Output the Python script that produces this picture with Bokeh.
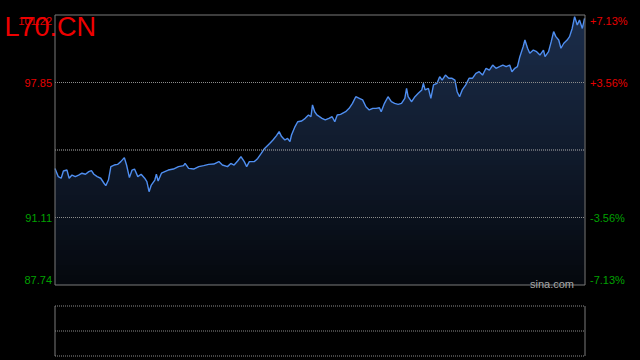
from bokeh.plotting import figure
from bokeh.models import Range1d, Label, GlobalInlineStyleSheet
from bokeh.layouts import column
from bokeh.embed import file_html
from bokeh.resources import INLINE

# ---------------- data ----------------
symbol = "L70.CN"
watermark = "sina.com"
prev_close = 94.48
price_ticks = [101.22, 97.85, 91.11, 87.74]
pct_labels = ["+7.13%", "+3.56%", "-3.56%", "-7.13%"]

times = [0.0, 1.5, 2.8, 3.8, 5.4, 6.4, 7.7, 9.2, 10.7, 12.2, 13.8, 15.3, 16.5, 17.6,
         19.1, 20.7, 22.2, 23.0, 24.2, 25.3, 26.8, 28.3, 29.8, 31.4, 32.4, 33.7, 34.9,
         36.0, 37.5, 39.0, 40.6, 41.6, 42.6, 43.6, 45.2, 45.9, 46.7, 48.2, 49.7, 51.3,
         53.6, 55.9, 58.2, 58.9, 60.5, 62.8, 65.1, 67.3, 69.6, 71.9, 74.2, 75.8, 78.1,
         79.6, 81.1, 82.7, 84.2, 85.7, 86.8, 88.0, 90.3, 91.8, 93.4, 94.9, 97.2, 98.7,
         100.3, 101.5, 102.6, 104.1, 105.3, 106.4, 107.1, 108.7, 109.9, 111.7, 113.3,
         114.8, 115.9, 116.6, 117.6, 118.6, 120.9, 122.4, 124.0, 125.5, 126.7, 127.8,
         129.3, 131.6, 133.2, 134.7, 136.2, 137.8, 139.3, 140.8, 142.3, 143.9, 145.4,
         146.9, 147.7, 149.2, 150.8, 152.3, 153.8, 155.4, 156.9, 158.4, 159.2, 159.9,
         161.5, 163.0, 164.5, 166.1, 166.8, 167.6, 169.1, 170.2, 171.4, 173.0, 174.2,
         175.3, 176.8, 178.3, 179.8, 181.1, 182.1, 183.2, 184.4, 186.0, 187.5, 189.0,
         190.6, 192.1, 193.6, 195.2, 196.7, 198.2, 199.7, 201.3, 202.8, 204.3, 205.9,
         206.9, 208.2, 209.4, 210.5, 212.0, 212.8, 214.0, 215.0, 216.6, 218.1, 219.6,
         221.2, 221.9, 223.5, 224.7, 225.8, 226.8, 228.1, 229.1, 230.4, 231.9, 233.0,
         234.2, 235.3, 236.5, 237.5, 238.8, 239.8]

prices = [93.56, 93.15, 93.07, 93.43, 93.48, 93.07, 93.23, 93.15, 93.23, 93.32, 93.27,
          93.40, 93.45, 93.27, 93.15, 93.07, 92.82, 92.70, 92.98, 93.65, 93.73, 93.76,
          93.90, 94.10, 93.73, 93.10, 93.48, 93.53, 93.15, 93.27, 93.07, 92.90, 92.40,
          92.73, 92.98, 93.27, 92.93, 93.32, 93.40, 93.48, 93.53, 93.65, 93.70, 93.81,
          93.56, 93.53, 93.65, 93.70, 93.76, 93.78, 93.90, 93.73, 93.65, 93.81, 93.73,
          93.93, 94.15, 93.90, 93.65, 93.90, 93.90, 94.06, 94.31, 94.56, 94.81, 94.98,
          95.20, 95.40, 95.15, 94.98, 95.06, 94.90, 95.23, 95.65, 95.89, 95.93, 96.06,
          96.23, 96.14, 96.73, 96.39, 96.23, 96.06, 95.98, 96.06, 96.14, 95.89, 96.23,
          96.26, 96.39, 96.56, 96.81, 97.14, 97.06, 96.98, 96.64, 96.48, 96.56, 96.56,
          96.59, 96.39, 96.81, 97.14, 96.89, 96.81, 96.76, 96.81, 97.06, 97.56, 97.14,
          96.89, 97.14, 97.31, 97.48, 97.81, 97.48, 97.56, 97.06, 97.73, 97.81, 98.14,
          97.97, 98.22, 98.06, 98.06, 97.97, 97.39, 97.14, 97.48, 97.73, 98.06, 98.06,
          98.31, 98.39, 98.22, 98.56, 98.47, 98.72, 98.56, 98.64, 98.72, 98.64, 98.72,
          98.39, 98.56, 98.64, 99.14, 99.64, 99.97, 99.56, 99.31, 99.47, 99.39, 99.22,
          99.47, 99.14, 99.39, 99.89, 100.39, 100.14, 99.97, 99.56, 99.81, 99.97, 100.14,
          100.55, 101.14, 100.72, 100.97, 100.55, 101.05]

# ---------------- layout / style ----------------
FONT = "Liberation Sans"
RED = "#e60000"
GREEN = "#00a000"
GRID = "#8c8c8c"
BORDER = "#7a7a7a"
tick_colors = [RED, RED, GREEN, GREEN]
ymin, ymax = price_ticks[-1], price_ticks[0]
t0, t1 = 0, 240

W, H_TOP, H_VOL = 640, 298, 62
L, R, T, B = 54.5, 584.5, 14.5, 284.5   # frame edges in canvas pixels

kx = (t1 - t0) / (R - L)
ky = (ymax - ymin) / (B - T)
xr = Range1d(t0 - L * kx, t0 + (W - L) * kx)
yr = Range1d(ymin - (H_TOP - B) * ky, ymax + T * ky)

p = figure(width=W, height=H_TOP, x_range=xr, y_range=yr,
           output_backend="svg", toolbar_location=None,
           x_axis_location=None, y_axis_location=None,
           min_border=0, min_border_left=0, min_border_right=0,
           min_border_top=0, min_border_bottom=0,
           background_fill_color="black", border_fill_color="black",
           outline_line_color=None)
p.grid.visible = False

# area fill under the line, darkened toward the bottom by black overlay bands
p.varea(x=times, y1=prices, y2=ymin, fill_color="#1c2e4c")
N = 54
step = (ymax - ymin) / N
for i in range(N):
    lo = ymin + i * step
    a = 0.82 * (1 - (i + 0.5) / N)
    p.quad(left=t0, right=t1, bottom=lo, top=lo + step, fill_color="black",
           fill_alpha=a, line_color=None)

p.line(times, prices, line_color="#4f8ef0", line_width=1.4)

# grid lines
p.segment(x0=[t0, t0], y0=price_ticks[1:3], x1=[t1, t1], y1=price_ticks[1:3],
          line_color=GRID, line_dash="1 1", line_width=1)
p.segment(x0=[t0], y0=[prev_close], x1=[t1], y1=[prev_close],
          line_color="#b0b0b0", line_dash="1 1", line_width=1)

# frame
p.quad(left=[t0], right=[t1], bottom=[ymin], top=[ymax], fill_color=None,
       line_color=BORDER, line_width=1)

offsets = [-6, 0, 0, 5]
for val, pl, c, off in zip(price_ticks, pct_labels, tick_colors, offsets):
    p.add_layout(Label(x=t0, y=val, x_offset=-3, y_offset=off, text=f"{val:.2f}",
                       text_align="right", text_baseline="middle", text_color=c,
                       text_font=FONT, text_font_size="11px"))
    p.add_layout(Label(x=t1, y=val, x_offset=5, y_offset=off, text=pl,
                       text_align="left", text_baseline="middle", text_color=c,
                       text_font=FONT, text_font_size="11px"))

p.add_layout(Label(x=t1, y=ymin, x_offset=-11, y_offset=1.5, text=watermark,
                   text_align="right", text_baseline="alphabetic", text_color="#a8a8a8",
                   text_font=FONT, text_font_size="11px"))

p.add_layout(Label(x=xr.start, y=ymax, x_offset=4, y_offset=-11.5, text=symbol,
                   text_align="left", text_baseline="alphabetic", text_color="#ee0000",
                   text_font=FONT, text_font_size="27px"))

# volume panel (empty)
VT, VB = 7.5, 57.5
vky = 2 / (VB - VT)
v = figure(width=W, height=H_VOL, x_range=Range1d(xr.start, xr.end),
           y_range=Range1d(0 - (H_VOL - VB) * vky, 2 + VT * vky),
           output_backend="svg", toolbar_location=None,
           x_axis_location=None, y_axis_location=None,
           min_border=0, min_border_left=0, min_border_right=0,
           min_border_top=0, min_border_bottom=0,
           background_fill_color="black", border_fill_color="black",
           outline_line_color=None)
v.grid.visible = False
v.segment(x0=[t0, t1], y0=[0, 0], x1=[t0, t1], y1=[2, 2], line_color=BORDER, line_width=1)
v.segment(x0=[t0] * 3, y0=[0, 1, 2], x1=[t1] * 3, y1=[0, 1, 2],
          line_color=GRID, line_dash="1 1", line_width=1)

layout = column(p, v, spacing=0,
                stylesheets=[GlobalInlineStyleSheet(css="body{background:#000;}")])
open("out.html", "w").write(file_html(layout, INLINE))
